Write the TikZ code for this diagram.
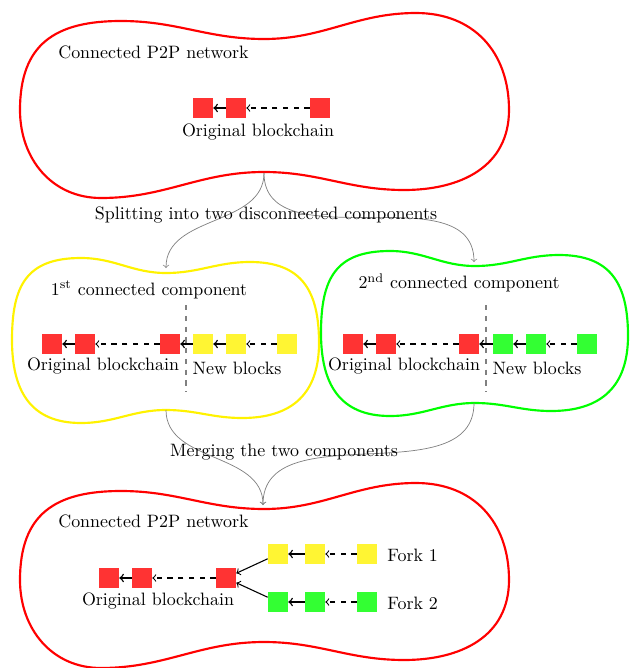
\documentclass[tikz,border=0pt]{standalone}
\usepackage{tikz}
\usepackage{xcolor}
\usepackage{amsmath}

% outlines of the networks
\newcommand{\bigblob}{(20,110) to[out=90,in=180,looseness=1.25] (121,21) to[out=0,in=180] (264,39) to[out=0,in=180] (416,13) to[out=0,in=90,looseness=1.1] (509,110) to[out=-90,in=0,looseness=1.1] (404,190) to[out=180,in=0] (264,172) to[out=180,in=0] (101,198) to[out=180,in=-90,looseness=1.05] (20,110) -- cycle}
\newcommand{\smallblob}{(12,340) to[out=90,in=180,looseness=1.3] (81,258) to[out=0,in=180] (166,273) to[out=0,in=180] (250,262) to[out=0,in=90,looseness=1.25] (319,343) to[out=-90,in=0,looseness=1.2] (242,418) to[out=180,in=0] (166,410) to[out=180,in=0] (81,423) to[out=180,in=-90,looseness=1.2] (12,340) -- cycle}

\begin{document}
\begin{tikzpicture}[x=0.0196cm,y=-0.0196cm,
  blk/.style={rectangle,minimum size=0.39cm,inner sep=0pt},
  rblk/.style={blk,fill=red!80},
  yblk/.style={blk,fill=yellow!80},
  gblk/.style={blk,fill=green!80},
  link/.style={->,thick},
  gap/.style={->,dashed,semithick},
  branch/.style={->,semithick},
  net/.style={very thick},
  flow/.style={->,gray},
  cut/.style={gray,dashed,very thick}]
\useasboundingbox (0,0) rectangle (630,668);

% networks
\draw[net,red] \bigblob;
\draw[net,yellow] \smallblob;
\draw[net,green,shift={(309,-7)}] \smallblob;
\draw[net,red,shift={(0,470)}] \bigblob;

% connected network
\node (topnet) [anchor=west] at (52,52) {Connected P2P network};
\node (t1) [rblk] at (203,108) {};
\node (t2) [rblk] at (236,108) {};
\node (t3) [rblk] at (320,108) {};
\draw[link] (t2) -- (t1);
\draw[gap] (t3) -- (t2);
\node (toplab) at (258,132) {Original blockchain};

% splitting
\coordinate (topdip) at (264,173);
\coordinate (ytop) at (166,268);
\coordinate (gtop) at (474,262);
\draw[flow] (topdip) to[out=-90,in=90] (ytop);
\draw[flow] (topdip) to[out=-90,in=90] (gtop);
\node (split) at (266,215) {Splitting into two disconnected components};

% first component
\node (ytitle) at (149,290) {1\textsuperscript{st} connected component};
\node (y1) [rblk] at (52,344) {};
\node (y2) [rblk] at (85,344) {};
\node (y3) [rblk] at (170,344) {};
\node (y4) [yblk] at (203,344) {};
\node (y5) [yblk] at (236,344) {};
\node (y6) [yblk] at (287,344) {};
\draw[link] (y2) -- (y1);
\draw[gap] (y3) -- (y2);
\draw[link] (y4) -- (y3);
\draw[link] (y5) -- (y4);
\draw[gap] (y6) -- (y5);
\coordinate (ycutA) at (186,305);
\coordinate (ycutB) at (186,392);
\draw[cut] (ycutA) -- (ycutB);
\node (yold) at (103,366) {Original blockchain};
\node (ynew) at (237,368) {New blocks};

% second component
\node (gtitle) at (459,283) {2\textsuperscript{nd} connected component};
\node (g1) [rblk] at (353,344) {};
\node (g2) [rblk] at (386,344) {};
\node (g3) [rblk] at (469,344) {};
\node (g4) [gblk] at (503,344) {};
\node (g5) [gblk] at (536,344) {};
\node (g6) [gblk] at (587,344) {};
\draw[link] (g2) -- (g1);
\draw[gap] (g3) -- (g2);
\draw[link] (g4) -- (g3);
\draw[link] (g5) -- (g4);
\draw[gap] (g6) -- (g5);
\coordinate (gcutA) at (486,305);
\coordinate (gcutB) at (486,392);
\draw[cut] (gcutA) -- (gcutB);
\node (gold) at (404,366) {Original blockchain};
\node (gnew) at (537,368) {New blocks};

% merging
\coordinate (ybot) at (166,410);
\coordinate (gbot) at (474,403);
\coordinate (botdip) at (263,505);
\draw[flow] (ybot) to[out=-90,in=90] (botdip);
\draw[flow] (gbot) to[out=-90,in=90] (botdip);
\node (merge) at (284,452) {Merging the two components};

% merged network
\node (botnet) [anchor=west] at (52,521) {Connected P2P network};
\node (b1) [rblk] at (109,578) {};
\node (b2) [rblk] at (142,578) {};
\node (b3) [rblk] at (226,578) {};
\draw[link] (b2) -- (b1);
\draw[gap] (b3) -- (b2);
\node (botlab) at (158,601) {Original blockchain};
\node (fa1) [yblk] at (278,554) {};
\node (fa2) [yblk] at (315,554) {};
\node (fa3) [yblk] at (367,554) {};
\node (fb1) [gblk] at (278,602) {};
\node (fb2) [gblk] at (315,602) {};
\node (fb3) [gblk] at (367,602) {};
\draw[branch] (fa1) -- (b3);
\draw[branch] (fb1) -- (b3);
\draw[link] (fa2) -- (fa1);
\draw[gap] (fa3) -- (fa2);
\draw[link] (fb2) -- (fb1);
\draw[gap] (fb3) -- (fb2);
\node (forka) [anchor=west] at (381,555) {Fork 1};
\node (forkb) [anchor=west] at (381,603) {Fork 2};
\end{tikzpicture}
\end{document}
